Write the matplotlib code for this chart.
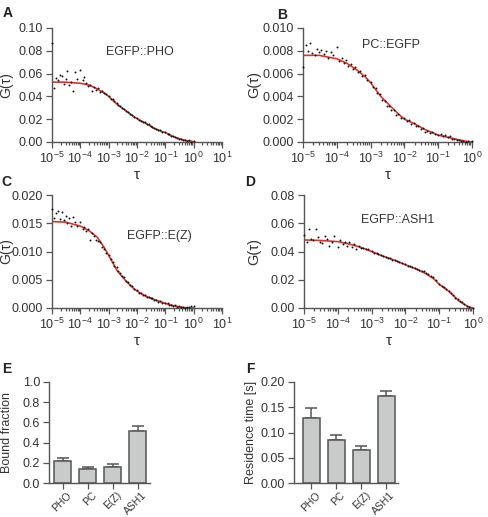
import numpy as np
import matplotlib
matplotlib.use('Agg')
import matplotlib.pyplot as plt
import matplotlib.transforms as mtransforms
from matplotlib.ticker import FormatStrFormatter, LogLocator, NullFormatter

plt.rcParams['font.family'] = ['Liberation Sans', 'DejaVu Sans']
plt.rcParams['mathtext.default'] = 'regular'

# lag times of the measured correlation curves [s]
tau = [1.0e-5, 1.2e-5, 1.4e-5, 1.6e-5, 1.9e-5, 2.2e-5, 2.6e-5, 3.0e-5, 3.5e-5, 4.1e-5, 4.8e-5, 5.6e-5, 6.6e-5, 7.8e-5,
       1.0e-4, 1.2e-4, 1.4e-4, 1.6e-4, 1.9e-4, 2.2e-4, 2.6e-4, 3.0e-4, 3.5e-4, 4.1e-4, 4.8e-4, 5.6e-4, 6.6e-4, 7.8e-4,
       1.0e-3, 1.2e-3, 1.4e-3, 1.6e-3, 1.9e-3, 2.2e-3, 2.6e-3, 3.0e-3, 3.5e-3, 4.1e-3, 4.8e-3, 5.6e-3, 6.6e-3, 7.8e-3,
       1.0e-2, 1.2e-2, 1.4e-2, 1.6e-2, 1.9e-2, 2.2e-2, 2.6e-2, 3.0e-2, 3.5e-2, 4.1e-2, 4.8e-2, 5.6e-2, 6.6e-2, 7.8e-2,
       1.0e-1, 1.2e-1, 1.4e-1, 1.6e-1, 1.9e-1, 2.2e-1, 2.6e-1, 3.0e-1, 3.5e-1, 4.1e-1, 4.8e-1, 5.6e-1, 6.6e-1, 7.8e-1,
       1.0]

# measured G(tau)
g_pho = [0.087, 0.047, 0.056, 0.054, 0.059, 0.058, 0.051, 0.055, 0.062, 0.050, 0.053, 0.045, 0.061, 0.055,
         0.063, 0.054, 0.057, 0.052, 0.049, 0.050, 0.045, 0.048, 0.046, 0.047, 0.044, 0.045, 0.043, 0.042,
         0.0405, 0.0380, 0.0373, 0.0358, 0.0342, 0.0322, 0.0314, 0.0296, 0.0292, 0.0271, 0.0263, 0.0247, 0.0240, 0.0219,
         0.0208, 0.0192, 0.0187, 0.0176, 0.0172, 0.0158, 0.0154, 0.0141, 0.0135, 0.0120, 0.0117, 0.0104, 0.0101, 0.0092,
         0.0085, 0.0072, 0.0070, 0.0057, 0.0055, 0.0041, 0.0039, 0.0026, 0.0028, 0.0014, 0.0020, 0.0008, 0.0016, 0.0004,
         0.0009]
g_pc = [0.0066, 0.0085, 0.0080, 0.0087, 0.0078, 0.0076, 0.0082, 0.0079, 0.0081, 0.0077, 0.0080, 0.0074, 0.0079, 0.0076,
        0.0083, 0.0071, 0.0074, 0.0069, 0.0072, 0.0067, 0.0068, 0.0064, 0.0066, 0.0061, 0.0062, 0.0058, 0.0059, 0.0054,
        0.0053, 0.0048, 0.0047, 0.0043, 0.0042, 0.0037, 0.0036, 0.0032, 0.0032, 0.0028, 0.0028, 0.0024, 0.0025, 0.0021,
        0.0021, 0.0018, 0.0019, 0.0016, 0.0017, 0.0014, 0.0014, 0.0011, 0.0012, 0.0009, 0.0010, 0.0008, 0.0009, 0.0007,
        0.0006, 0.0007, 0.0005, 0.0006, 0.0004, 0.0005, 0.0003, 0.0003, 0.0002, 0.0002, 0.0001, 0.0001, 0.0000, 0.0001,
        0.0001]
g_ez = [0.0175, 0.0160, 0.0168, 0.0171, 0.0158, 0.0170, 0.0156, 0.0162, 0.0150, 0.0159, 0.0146, 0.0161, 0.0152, 0.0145,
        0.0152, 0.0140, 0.0143, 0.0137, 0.0139, 0.0121, 0.0133, 0.0127, 0.0121, 0.0118, 0.0116, 0.0108, 0.0105, 0.0097,
        0.0094, 0.0086, 0.0082, 0.0075, 0.0072, 0.0065, 0.0062, 0.0056, 0.0054, 0.0048, 0.0046, 0.0040, 0.0039, 0.0033,
        0.0031, 0.0027, 0.0027, 0.0023, 0.0023, 0.0020, 0.0020, 0.0017, 0.0017, 0.0014, 0.0014, 0.0011, 0.0012, 0.0009,
        0.0008, 0.0008, 0.0006, 0.0006, 0.0004, 0.0005, 0.0002, 0.0003, 0.0001, 0.0002, 0.0000, 0.0001, 0.0002, 0.0003,
        0.0003]
g_ash1 = [0.052, 0.047, 0.056, 0.049, 0.048, 0.056, 0.050, 0.047, 0.046, 0.051, 0.049, 0.044, 0.047, 0.051,
          0.043, 0.048, 0.045, 0.047, 0.044, 0.047, 0.043, 0.045, 0.042, 0.0437, 0.0425, 0.0428, 0.0416, 0.0415,
          0.0402, 0.0391, 0.0388, 0.0379, 0.0376, 0.0366, 0.0364, 0.0355, 0.0353, 0.0343, 0.0341, 0.0331, 0.0329, 0.0318,
          0.0308, 0.0298, 0.0296, 0.0287, 0.0285, 0.0275, 0.0272, 0.0262, 0.0259, 0.0248, 0.0243, 0.0229, 0.0220, 0.0198,
          0.0170, 0.0155, 0.0148, 0.0134, 0.0123, 0.0105, 0.0092, 0.0074, 0.0063, 0.0050, 0.0042, 0.0030, 0.0016, 0.0008,
          0.0002]

# fitted curves, read at these lag times
tau_fit = [1e-5, 3e-5, 1e-4, 2e-4, 4e-4, 7e-4, 1e-3, 2e-3, 4e-3, 7e-3,
           1e-2, 2e-2, 4e-2, 7e-2, 1e-1, 2e-1, 4e-1, 7e-1, 1.0]
fit_pho = [0.0525, 0.0525, 0.0515, 0.0500, 0.0465, 0.0430, 0.0400, 0.0330, 0.0275, 0.0230,
           0.0205, 0.0165, 0.0120, 0.0095, 0.0082, 0.0045, 0.0020, 0.0008, 0.0003]
fit_pc = [0.0076, 0.0076, 0.0073, 0.0069, 0.0063, 0.0057, 0.0052, 0.0040, 0.0031, 0.0024,
          0.0020, 0.0016, 0.0011, 0.0008, 0.0006, 0.0004, 0.0002, 0.00005, 0.0]
fit_ez = [0.0153, 0.0152, 0.0145, 0.0137, 0.0125, 0.0107, 0.0093, 0.0066, 0.0048, 0.0036,
          0.0030, 0.0021, 0.0015, 0.0011, 0.0008, 0.0004, 0.0001, 0.0, 0.0]
fit_ash1 = [0.0482, 0.0478, 0.0470, 0.0455, 0.0435, 0.0415, 0.0400, 0.0370, 0.0345, 0.0322,
            0.0306, 0.0278, 0.0244, 0.0205, 0.0168, 0.0115, 0.0046, 0.0011, 0.0]

# bar charts
proteins = ['PHO', 'PC', 'E(Z)', 'ASH1']
bound_fraction = [0.213, 0.143, 0.163, 0.515]
bound_err = [0.033, 0.020, 0.026, 0.053]
residence_time = [0.1296, 0.0857, 0.0645, 0.1728]
residence_err = [0.018, 0.010, 0.008, 0.010]

W, H = 488, 517
AX_COL = '#555555'
TXT_COL = '#333333'


def px_axes(fig, left, right, top, bottom):
    # axes from pixel edges of the reference
    return fig.add_axes([left / W, 1 - bottom / H, (right - left) / W, (bottom - top) / H])


def style(ax):
    for s in ['top', 'right']:
        ax.spines[s].set_visible(False)
    for s in ['left', 'bottom']:
        ax.spines[s].set_color(AX_COL)
        ax.spines[s].set_linewidth(1.0)
    ax.tick_params(which='both', direction='out', color=AX_COL, labelcolor=TXT_COL, labelsize=9, width=0.9, pad=2.5)
    ax.tick_params(which='major', length=4)
    ax.tick_params(which='minor', length=2.2)


def corr_panel(ax, g, fit, xmax, yticks, fmt, name, name_xy, ylab_x, ylab_size):
    ax.plot(tau, g, 'o', ms=1.4, color='#111111', mec='none', clip_on=False, zorder=3)
    ax.plot(tau_fit, fit, color='#d8352e', lw=1.2, zorder=2)
    ax.set_xscale('log')
    ax.set_xlim(1e-5, xmax)
    ax.set_ylim(yticks[0], yticks[-1])
    ax.set_yticks(yticks)
    ax.yaxis.set_major_formatter(FormatStrFormatter(fmt))
    ax.xaxis.set_major_locator(LogLocator(base=10, numticks=12))
    ax.xaxis.set_minor_locator(LogLocator(base=10, subs=np.arange(2, 10), numticks=12))
    ax.xaxis.set_minor_formatter(NullFormatter())
    style(ax)
    ax.set_xlabel('τ', fontsize=11, color=TXT_COL, labelpad=1)
    ax.set_ylabel('G(τ)', fontsize=ylab_size, color=TXT_COL)
    ax.yaxis.set_label_coords(ylab_x, 0.5)
    ax.text(name_xy[0], name_xy[1], name, fontsize=9, color=TXT_COL, ha='center', va='center')


def bar_panel(ax, vals, errs, xlim, yticks, fmt, ylabel):
    x = np.arange(len(proteins))
    ax.bar(x, vals, width=0.68, color='#c9cbca', edgecolor=AX_COL, linewidth=1.1, zorder=2)
    ax.errorbar(x, vals, yerr=[np.zeros(len(errs)), errs], fmt='none', ecolor=AX_COL,
                elinewidth=1.1, capsize=4, capthick=1.1, zorder=1)
    ax.set_xlim(*xlim)
    ax.set_ylim(yticks[0], yticks[-1])
    ax.set_yticks(yticks)
    ax.yaxis.set_major_formatter(FormatStrFormatter(fmt))
    ax.set_xticks(x)
    ax.set_xticklabels(proteins, rotation=45, ha='right', rotation_mode='anchor')
    style(ax)
    ax.tick_params(axis='x', labelsize=7.5, pad=1)
    # shift the slanted labels a little to the right, as in the source
    shift = mtransforms.ScaledTranslation(4 / 100, 0, fig.dpi_scale_trans)
    for lab in ax.get_xticklabels():
        lab.set_transform(lab.get_transform() + shift)
    ax.set_ylabel(ylabel, fontsize=9, color=TXT_COL)
    ax.yaxis.set_label_coords(-0.356, 0.5)


fig = plt.figure(figsize=(W / 100, H / 100), dpi=100)

ax_a = px_axes(fig, 52, 222, 28, 142)
corr_panel(ax_a, g_pho, fit_pho, 10, [0, 0.02, 0.04, 0.06, 0.08, 0.10], '%.2f', 'EGFP::PHO', (1.3e-2, 0.079), -0.225, 10)

ax_b = px_axes(fig, 303, 472, 28, 142)
corr_panel(ax_b, g_pc, fit_pc, 1, [0, 0.002, 0.004, 0.006, 0.008, 0.010], '%.3f', 'PC::EGFP', (4e-3, 0.0085), -0.249, 10.5)

ax_c = px_axes(fig, 52, 222, 195, 308)
corr_panel(ax_c, g_ez, fit_ez, 10, [0, 0.005, 0.010, 0.015, 0.020], '%.3f', 'EGFP::E(Z)', (6e-2, 0.0127), -0.225, 10)

ax_d = px_axes(fig, 304, 473, 195, 308)
corr_panel(ax_d, g_ash1, fit_ash1, 1, [0, 0.02, 0.04, 0.06, 0.08], '%.2f', 'EGFP::ASH1', (5.9e-3, 0.062), -0.254, 10.5)

ax_e = px_axes(fig, 49, 150, 382, 483)
bar_panel(ax_e, bound_fraction, bound_err, (-0.54, 3.5), [0, 0.2, 0.4, 0.6, 0.8, 1.0], '%.1f', 'Bound fraction')

ax_f = px_axes(fig, 294, 398, 382, 483)
bar_panel(ax_f, residence_time, residence_err, (-0.68, 3.48), [0, 0.05, 0.10, 0.15, 0.20], '%.2f', 'Residence time [s]')

# panel letters
for letter, (px, py) in zip('ABCDEF', [(8, 13), (282, 15), (6, 182), (250, 182), (7, 369), (250, 369)]):
    fig.text(px / W, 1 - py / H, letter, fontsize=10, fontweight='bold', color='#222222', ha='center', va='center')

fig.savefig('out.png', dpi=100)
